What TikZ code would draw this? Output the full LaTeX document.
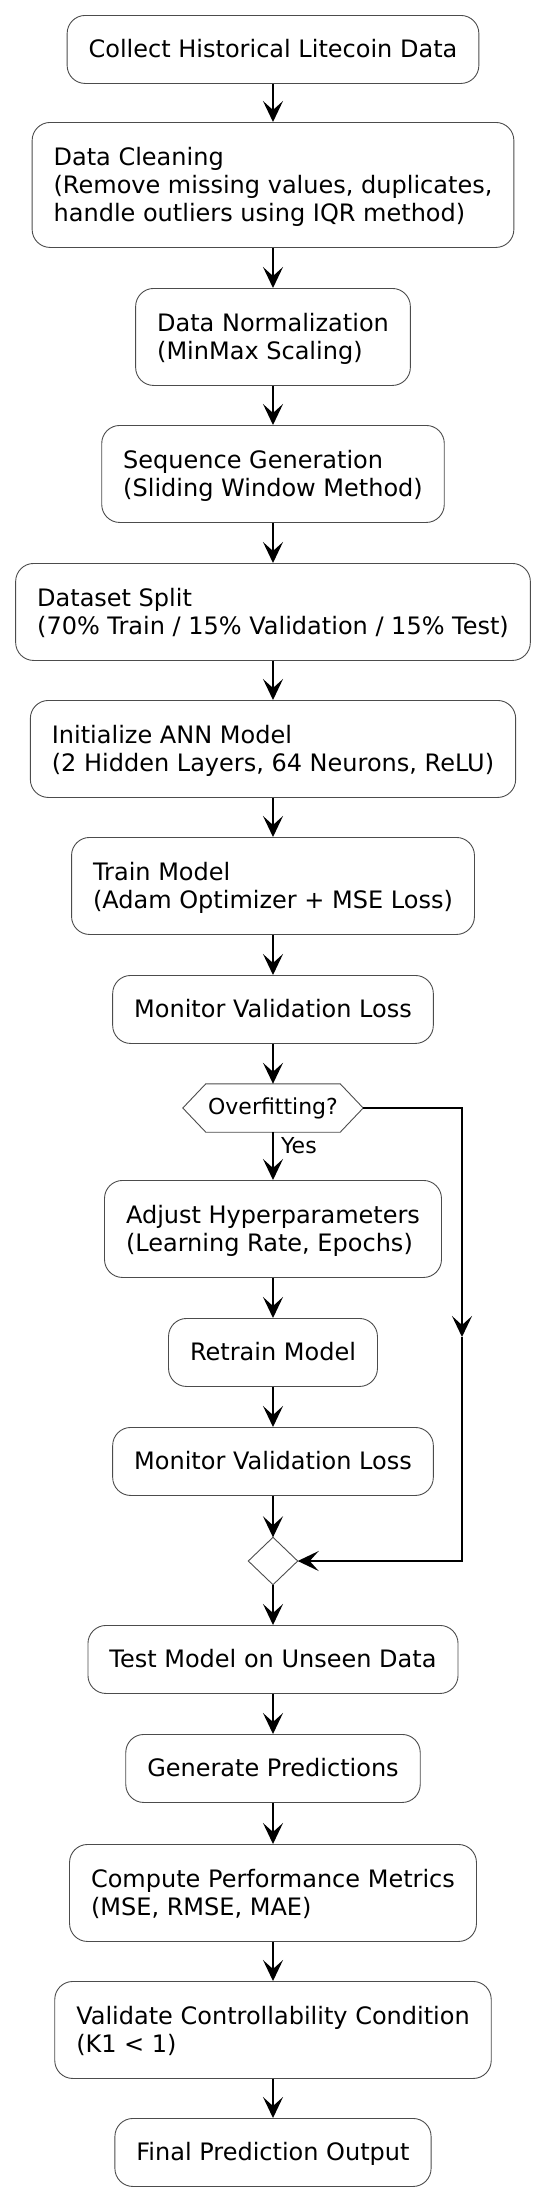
\documentclass[tikz,border=0pt]{standalone}
\usepackage{fontspec}
\setmainfont{DejaVu Sans}
\usetikzlibrary{arrows.meta}
\newcommand{\ftop}{\rule{0pt}{22.5pt}}
\newcommand{\fbot}{\rule[-5.5pt]{0pt}{5.5pt}}
\begin{document}
\begin{tikzpicture}[x=1pt,y=-1pt,
  act/.style={draw=black!70, line width=0.9pt, rounded corners=18pt, align=left,
    anchor=north, inner xsep=21.5pt, inner ysep=0pt, font=\fontsize{24}{28}\selectfont},
  one/.style={act, minimum height=68pt},
  two/.style={act, minimum height=97pt},
  three/.style={act, minimum height=125pt},
  shapeline/.style={draw=black!70, line width=0.9pt},
  conn/.style={line width=1.6pt, -{Stealth[length=21pt,width=20pt,inset=9pt]}},
  small/.style={font=\fontsize{22}{26}\selectfont}]
\useasboundingbox (0,0) rectangle (550,2198);

\node[one]   (b1)  at (273,15)   {\ftop Collect Historical Litecoin Data\fbot};
\node[three] (b2)  at (273,122)  {\ftop Data Cleaning\\(Remove missing values, duplicates,\\handle outliers using IQR method)\fbot};
\node[two]   (b3)  at (273,288)  {\ftop Data Normalization\\(MinMax Scaling)\fbot};
\node[two]   (b4)  at (273,425)  {\ftop Sequence Generation\\(Sliding Window Method)\fbot};
\node[two]   (b5)  at (273,563)  {\ftop Dataset Split\\(70\% Train / 15\% Validation / 15\% Test)\fbot};
\node[two]   (b6)  at (273,700)  {\ftop Initialize ANN Model\\(2 Hidden Layers, 64 Neurons, ReLU)\fbot};
\node[two]   (b7)  at (273,837)  {\ftop Train Model\\(Adam Optimizer + MSE Loss)\fbot};
\node[one]   (b8)  at (273,975)  {\ftop Monitor Validation Loss\fbot};

\node[small, minimum width=180pt, minimum height=48pt, inner sep=0pt] (hex) at (273,1108) {Overfitting?};
\draw[shapeline] (hex.west) -- ([xshift=23pt]hex.north west) -- ([xshift=-23pt]hex.north east)
  -- (hex.east) -- ([xshift=-23pt]hex.south east) -- ([xshift=23pt]hex.south west) -- cycle;

\node[two]   (b9)  at (273,1180) {\ftop Adjust Hyperparameters\\(Learning Rate, Epochs)\fbot};
\node[one]   (b10) at (273,1318) {\ftop Retrain Model\fbot};
\node[one]   (b11) at (273,1427) {\ftop Monitor Validation Loss\fbot};

\node[minimum width=49pt, minimum height=47pt, inner sep=0pt] (dia) at (273,1561) {};
\draw[shapeline] (dia.north) -- (dia.east) -- (dia.south) -- (dia.west) -- cycle;

\node[one]   (b12) at (273,1625) {\ftop Test Model on Unseen Data\fbot};
\node[one]   (b13) at (273,1734) {\ftop Generate Predictions\fbot};
\node[two]   (b14) at (273,1844) {\ftop Compute Performance Metrics\\(MSE, RMSE, MAE)\fbot};
\node[two]   (b15) at (273,1981) {\ftop Validate Controllability Condition\\(K1 < 1)\fbot};
\node[one]   (b16) at (273,2118) {\ftop Final Prediction Output\fbot};

\coordinate (rmid) at (462,1337);

\draw[conn] (b1) -- (b2);
\draw[conn] (b2) -- (b3);
\draw[conn] (b3) -- (b4);
\draw[conn] (b4) -- (b5);
\draw[conn] (b5) -- (b6);
\draw[conn] (b6) -- (b7);
\draw[conn] (b7) -- (b8);
\draw[conn] (b8) -- (hex);
\draw[conn] (hex) -- (b9);
\draw[conn] (b9) -- (b10);
\draw[conn] (b10) -- (b11);
\draw[conn] (b11) -- (dia.north);
\draw[conn] (dia.south) -- (b12);
\draw[conn] (b12) -- (b13);
\draw[conn] (b13) -- (b14);
\draw[conn] (b14) -- (b15);
\draw[conn] (b15) -- (b16);

\draw[conn] (hex.east) -| (rmid);
\draw[conn] (rmid) |- (dia.east);

\node[small, anchor=base west, inner sep=0pt] (yes) at (281,1153) {Yes};
\end{tikzpicture}
\end{document}
